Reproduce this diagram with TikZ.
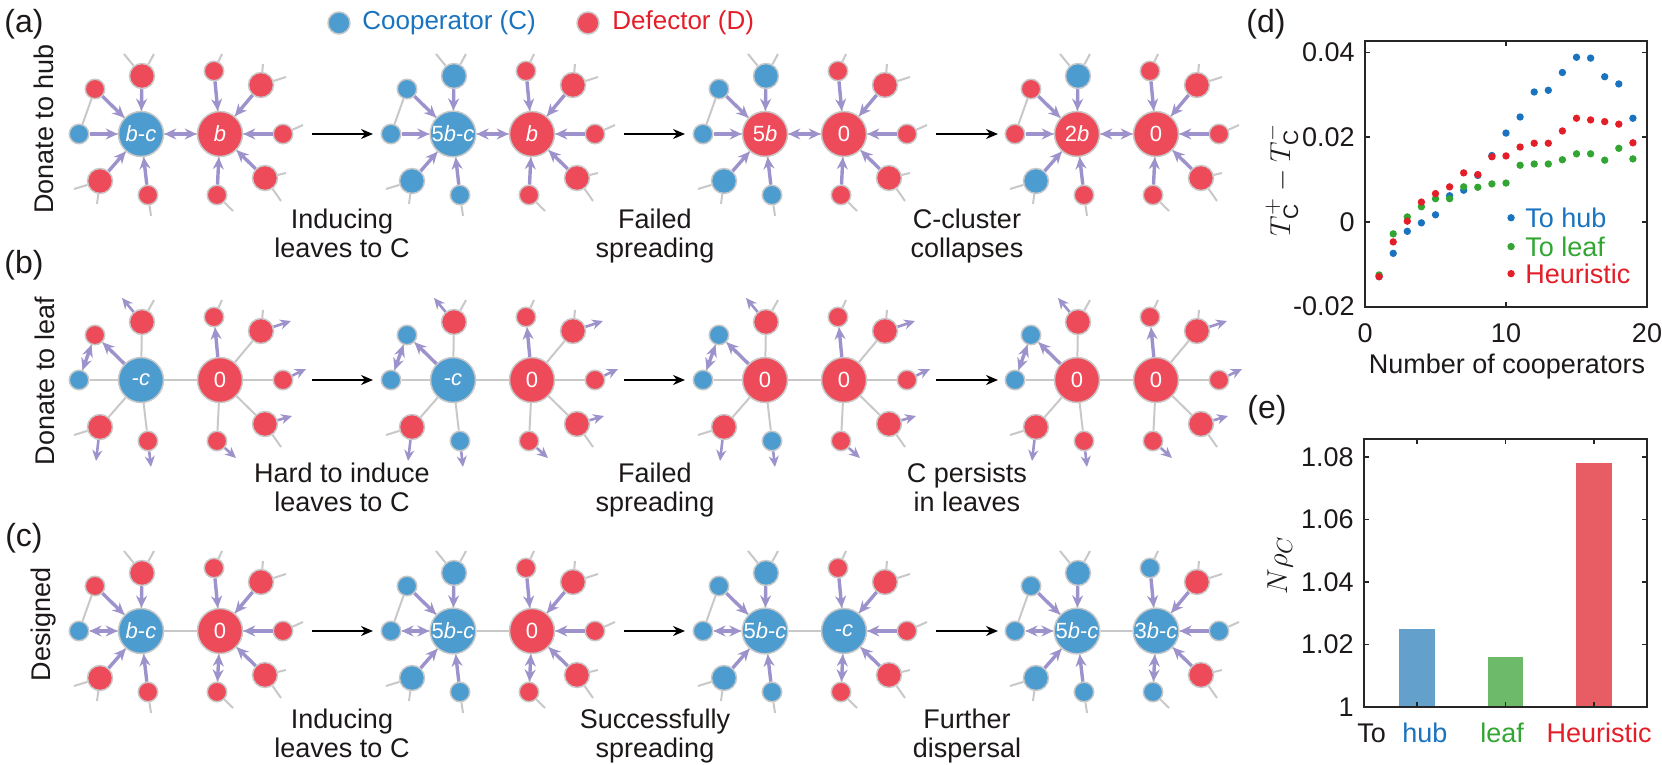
\documentclass[tikz,border=0pt]{standalone}
\usepackage{fontspec}
\setmainfont{Liberation Sans}
\usetikzlibrary{arrows.meta}
\definecolor{qC}{RGB}{77,156,207}
\definecolor{qD}{RGB}{238,75,90}
\definecolor{edgegray}{RGB}{200,200,200}
\definecolor{arrpurple}{RGB}{158,146,204}
\definecolor{tblue}{RGB}{25,115,190}
\definecolor{tred}{RGB}{228,30,40}
\definecolor{tgreen}{RGB}{50,165,50}
\definecolor{bblue}{RGB}{99,160,203}
\definecolor{bgreen}{RGB}{109,186,106}
\definecolor{bred}{RGB}{232,93,99}
\definecolor{axgray}{RGB}{38,38,38}
\definecolor{txt}{RGB}{30,25,25}

\def\setleavesL#1#2#3#4#5{\def\nwla{q#1}\def\nwlb{q#2}\def\nwlc{q#3}\def\nwld{q#4}\def\nwle{q#5}}
\def\setleavesR#1#2#3#4#5{\def\nwra{q#1}\def\nwrb{q#2}\def\nwrc{q#3}\def\nwrd{q#4}\def\nwre{q#5}}

\tikzset{
  nodebase/.style={circle, draw=edgegray, line width=0.75pt, inner sep=0pt},
  hubnode/.style={nodebase, minimum size=22.5pt, text=white, font=\fontsize{11}{12}\selectfont},
  bigleaf/.style={nodebase, minimum size=12.5pt},
  smallleaf/.style={nodebase, minimum size=9.75pt},
  gedge/.style={draw=edgegray, line width=1pt},
  parr/.style={draw=arrpurple, line width=1.7pt, -{Stealth[length=6pt,width=5.5pt]}},
  pdarr/.style={draw=arrpurple, line width=1.7pt, {Stealth[length=6pt,width=5.5pt]}-{Stealth[length=6pt,width=5.5pt]}},
  oarr/.style={draw=arrpurple, line width=1.3pt, -{Stealth[length=5.5pt,width=5pt]}},
  tarr/.style={draw=black, line width=1pt, -{Stealth[length=6pt,width=5pt]}},
  captxt/.style={font=\fontsize{13.5}{14}\selectfont, text=txt, anchor=base, inner sep=0pt},
  paneltxt/.style={font=\fontsize{16}{18}\selectfont, text=txt},
  ticklab/.style={font=\fontsize{13.5}{14}\selectfont, text=txt, inner sep=0pt},
  axbox/.style={draw=axgray, line width=1pt},
  tickline/.style={draw=axgray, line width=0.8pt},
}

\newcommand\netunit[9]{%
  \setleavesL#8\setleavesR#9%
  \begin{scope}[shift={(#2,#3)}]
    \node[hubnode, fill=q#4] (#1h) at (0,0) {#5};
    \node[hubnode, fill=q#6] (#1k) at (79,0) {#7};
    \node[smallleaf, fill=\nwla] (#1a) at (-62,0) {};
    \node[smallleaf, fill=\nwlb] (#1b) at (-46,-45) {};
    \node[bigleaf, fill=\nwlc] (#1c) at (1,-58) {};
    \node[bigleaf, fill=\nwld] (#1d) at (-41,47) {};
    \node[smallleaf, fill=\nwle] (#1e) at (7,61) {};
    \node[smallleaf, fill=\nwra] (#1f) at (73,-63) {};
    \node[bigleaf, fill=\nwrb] (#1g) at (120,-49) {};
    \node[smallleaf, fill=\nwrc] (#1i) at (142,0) {};
    \node[bigleaf, fill=\nwrd] (#1j) at (124,44) {};
    \node[smallleaf, fill=\nwre] (#1l) at (76,61) {};
  \end{scope}
  \foreach \q in {a,b,c,d,e} \draw[gedge] (#1h) -- (#1\q);
  \foreach \q in {f,g,i,j,l} \draw[gedge] (#1k) -- (#1\q);
  \draw[gedge] (#1h) -- (#1k);
  \draw[gedge] (#1a) -- (#1b);
}
\newcommand\allstubs[1]{%
  \draw[gedge] (#1c) -- ++(-18,-22);
  \draw[gedge] (#1c) -- ++(12,-22);
  \draw[gedge] (#1d) -- ++(-26,8);
  \draw[gedge] (#1d) -- ++(-3,23);
  \draw[gedge] (#1e) -- ++(3,21);
  \draw[gedge] (#1f) -- ++(8,-17);
  \draw[gedge] (#1g) -- ++(2,-21);
  \draw[gedge] (#1g) -- ++(25,-8);
  \draw[gedge] (#1i) -- ++(20,-9);
  \draw[gedge] (#1j) -- ++(21,-5);
  \draw[gedge] (#1j) -- ++(16,23);
  \draw[gedge] (#1l) -- ++(16,16);
}
\newcommand\arrowsA[1]{%
  \foreach \q in {a,b,c,d,e} \draw[parr] (#1\q) -- (#1h);
  \foreach \q in {f,g,i,j,l} \draw[parr] (#1\q) -- (#1k);
  \draw[pdarr] (#1h) -- (#1k);
}
\newcommand\arrowsC[1]{%
  \foreach \q in {b,c,d,e} \draw[parr] (#1\q) -- (#1h);
  \draw[pdarr] (#1h) -- (#1a);
  \foreach \q in {f,g,i,j} \draw[parr] (#1\q) -- (#1k);
  \draw[pdarr] (#1k) -- (#1l);
}
\newcommand\arrowsB[1]{%
  \draw[gedge] (#1c) -- ++(12,-22);
  \draw[gedge] (#1d) -- ++(-26,8);
  \draw[gedge] (#1f) -- ++(8,-17);
  \draw[gedge] (#1g) -- ++(2,-21);
  \draw[gedge] (#1j) -- ++(16,23);
  \draw[parr] (#1h) -- (#1b);
  \draw[pdarr] (#1a) -- (#1b);
  \draw[parr] (#1k) -- (#1f);
  \draw[oarr] (#1c) -- ++(-20,-24);
  \draw[oarr] (#1d) -- ++(-4,34);
  \draw[oarr] (#1e) -- ++(3,26);
  \draw[oarr] (#1g) -- ++(30,-10);
  \draw[oarr] (#1i) -- ++(23,-11);
  \draw[oarr] (#1j) -- ++(27,-8);
  \draw[oarr] (#1l) -- ++(19,17);
}

\begin{document}
\begin{tikzpicture}[x={(0.5pt,0)}, y={(0,-0.5pt)}]
\useasboundingbox (0,0) rectangle (1662,765);

% legend
\node[nodebase, fill=qC, minimum size=11pt] (legC) at (339,23) {};
\node[anchor=west, inner sep=0pt, text=tblue, font=\fontsize{13}{14}\selectfont] (legCt) at (362,23) {Cooperator (C)};
\node[nodebase, fill=qD, minimum size=11pt] (legD) at (588,23) {};
\node[anchor=west, inner sep=0pt, text=tred, font=\fontsize{13}{14}\selectfont] (legDt) at (612,23) {Defector (D)};

% panel labels
\node[paneltxt] (pa) at (24,24) {(a)};
\node[paneltxt] (pb) at (24,265) {(b)};
\node[paneltxt] (pc) at (24,538) {(c)};
\node[paneltxt] (pd) at (1266,24) {(d)};
\node[paneltxt] (pe) at (1267,410) {(e)};

% row labels
\node[rotate=90, text=txt, font=\fontsize{13.5}{14}\selectfont] (ra) at (44,129) {Donate to hub};
\node[rotate=90, text=txt, font=\fontsize{13.5}{14}\selectfont] (rb) at (45,381) {Donate to leaf};
\node[rotate=90, text=txt, font=\fontsize{13.5}{14}\selectfont] (rc) at (44,624) {Designed};

% ---------- row a
\netunit{aA}{141}{134}{C}{\textit{b}-\textit{c}}{D}{\textit{b}}{CDDDD}{DDDDD}
\netunit{aB}{453}{134}{C}{5\textit{b}-\textit{c}}{D}{\textit{b}}{CCCCC}{DDDDD}
\netunit{aC}{765}{134}{D}{5\textit{b}}{D}{0}{CCCCC}{DDDDD}
\netunit{aD}{1077}{134}{D}{2\textit{b}}{D}{0}{DDCCD}{DDDDD}
\foreach \u in {aA,aB,aC,aD} {\allstubs{\u}\arrowsA{\u}}

% ---------- row b
\netunit{bA}{141}{380}{C}{-\textit{c}}{D}{0}{CDDDD}{DDDDD}
\netunit{bB}{453}{380}{C}{-\textit{c}}{D}{0}{CCDDC}{DDDDD}
\netunit{bC}{765}{380}{D}{0}{D}{0}{CCDDC}{DDDDD}
\netunit{bD}{1077}{380}{D}{0}{D}{0}{CCDDD}{DDDDD}
\foreach \u in {bA,bB,bC,bD} {\arrowsB{\u}}

% ---------- row c
\netunit{cA}{141}{631}{C}{\textit{b}-\textit{c}}{D}{0}{CDDDD}{DDDDD}
\netunit{cB}{453}{631}{C}{5\textit{b}-\textit{c}}{D}{0}{CCCCC}{DDDDD}
\netunit{cC}{765}{631}{C}{5\textit{b}-\textit{c}}{C}{-\textit{c}}{CCCCC}{DDDDD}
\netunit{cD}{1077}{631}{C}{5\textit{b}-\textit{c}}{C}{3\textit{b}-\textit{c}}{CCCCC}{CDCDC}
\foreach \u in {cA,cB,cC,cD} {\allstubs{\u}\arrowsC{\u}}

% transition arrows
\foreach \r/\yy in {a/134,b/380,c/631} {
  \foreach \i/\xs/\xe in {1/312/373,2/624/685,3/936/998} {
    \coordinate (t\r\i s) at (\xs,\yy);
    \coordinate (t\r\i e) at (\xe,\yy);
    \draw[tarr] (t\r\i s) -- (t\r\i e);
  }
}

% captions
\node[captxt] (ca1a) at (342,228) {Inducing};
\node[captxt] (ca1b) at (342,257) {leaves to C};
\node[captxt] (ca2a) at (655,228) {Failed};
\node[captxt] (ca2b) at (655,257) {spreading};
\node[captxt] (ca3a) at (967,228) {C-cluster};
\node[captxt] (ca3b) at (967,257) {collapses};

\node[captxt] (cb1a) at (342,482) {Hard to induce};
\node[captxt] (cb1b) at (342,511) {leaves to C};
\node[captxt] (cb2a) at (655,482) {Failed};
\node[captxt] (cb2b) at (655,511) {spreading};
\node[captxt] (cb3a) at (967,482) {C persists};
\node[captxt] (cb3b) at (967,511) {in leaves};

\node[captxt] (cc1a) at (342,728) {Inducing};
\node[captxt] (cc1b) at (342,757) {leaves to C};
\node[captxt] (cc2a) at (655,728) {Successfully};
\node[captxt] (cc2b) at (655,757) {spreading};
\node[captxt] (cc3a) at (967,728) {Further};
\node[captxt] (cc3b) at (967,757) {dispersal};

% ---------- panel d
\begin{scope}[shift={(1365,222)}, x={(7.05pt,0)}, y={(0,21.175pt)}]
  \draw[axbox] (0,-2) rectangle (20,4.28);
  \foreach \v in {-2,0,2,4} {
    \draw[tickline] (0,\v) -- ++(2.5pt,0);
    \draw[tickline] (20,\v) -- ++(-2.5pt,0);
  }
  \foreach \v in {0,10,20} {
    \draw[tickline] (\v,-2) -- ++(0,2.5pt);
    \draw[tickline] (\v,4.28) -- ++(0,-2.5pt);
  }
  \node[ticklab, anchor=east] (dy1) at (-0.71,4) {0.04};
  \node[ticklab, anchor=east] (dy2) at (-0.71,2) {0.02};
  \node[ticklab, anchor=east] (dy3) at (-0.71,0) {0};
  \node[ticklab, anchor=east] (dy4) at (-0.71,-2) {-0.02};
  \node[ticklab, anchor=north] (dx1) at (0,-2.38) {0};
  \node[ticklab, anchor=north] (dx2) at (10,-2.38) {10};
  \node[ticklab, anchor=north] (dx3) at (20,-2.38) {20};
  \foreach \x/\y in {1/-1.29,2/-0.74,3/-0.22,4/-0.02,5/0.17,6/0.62,7/0.75,8/1.10,9/1.57,10/2.10,11/2.48,12/3.07,13/3.11,14/3.53,15/3.89,16/3.87,17/3.43,18/3.26,19/2.45}
    \fill[tblue] (\x,\y) circle (1.85pt);
  \foreach \x/\y in {1/-1.25,2/-0.28,3/0.12,4/0.36,5/0.55,6/0.55,7/0.83,8/0.82,9/0.90,10/0.92,11/1.34,12/1.37,13/1.37,14/1.47,15/1.61,16/1.61,17/1.46,18/1.74,19/1.49}
    \fill[tgreen] (\x,\y) circle (1.85pt);
  \foreach \x/\y in {1/-1.29,2/-0.47,3/0.02,4/0.47,5/0.67,6/0.83,7/1.16,8/1.12,9/1.54,10/1.56,11/1.77,12/1.86,13/1.86,14/2.15,15/2.45,16/2.41,17/2.37,18/2.31,19/1.87}
    \fill[tred] (\x,\y) circle (1.85pt);
  \fill[tblue] (10.36,0.1) circle (1.85pt);
  \fill[tgreen] (10.36,-0.58) circle (1.85pt);
  \fill[tred] (10.36,-1.22) circle (1.85pt);
  \node[ticklab, anchor=west, text=tblue] (lg1) at (11.35,0.1) {To hub};
  \node[ticklab, anchor=west, text=tgreen] (lg2) at (11.35,-0.58) {To leaf};
  \node[ticklab, anchor=west, text=tred] (lg3) at (11.35,-1.22) {Heuristic};
\end{scope}
\node[ticklab] (dxl) at (1507,367) {Number of cooperators};
\node[rotate=90, text=txt, font=\fontsize{15}{18}\selectfont] (dyl) at (1282,180) {$T_{\mathrm{C}}^{+}-T_{\mathrm{C}}^{-}$};

% ---------- panel e
\begin{scope}[shift={(1328.64,707)}, x={(44.2pt,0)}, y={(0,15.625pt)}]
  \fill[bblue] (0.8,0) rectangle (1.2,2.5);
  \fill[bgreen] (1.8,0) rectangle (2.2,1.6);
  \fill[bred] (2.8,0) rectangle (3.2,7.8);
  \draw[axbox] (0.4,0) rectangle (3.6,8.58);
  \foreach \v in {0,2,4,6,8} {
    \draw[tickline] (0.4,\v) -- ++(2.5pt,0);
    \draw[tickline] (3.6,\v) -- ++(-2.5pt,0);
  }
  \foreach \v in {1,2,3} {
    \draw[tickline] (\v,0) -- ++(0,2.5pt);
    \draw[tickline] (\v,8.58) -- ++(0,-2.5pt);
  }
  \node[ticklab, anchor=east] (ey1) at (0.287,8) {1.08};
  \node[ticklab, anchor=east] (ey2) at (0.287,6) {1.06};
  \node[ticklab, anchor=east] (ey3) at (0.287,4) {1.04};
  \node[ticklab, anchor=east] (ey4) at (0.287,2) {1.02};
  \node[ticklab, anchor=east] (ey5) at (0.287,0) {1};
  \node[ticklab, anchor=base west] (ex0) at (0.321,-1.15) {To};
  \node[ticklab, anchor=base west, text=tblue] (ex1) at (0.83,-1.15) {hub};
  \node[ticklab, anchor=base, text=tgreen] (ex2) at (1.962,-1.15) {leaf};
  \node[ticklab, anchor=base, text=tred] (ex3) at (3.06,-1.15) {Heuristic};
\end{scope}
\node[rotate=90, text=txt, font=\fontsize{15}{18}\selectfont] (eyl) at (1280,565) {$N\rho_C$};
\end{tikzpicture}
\end{document}
